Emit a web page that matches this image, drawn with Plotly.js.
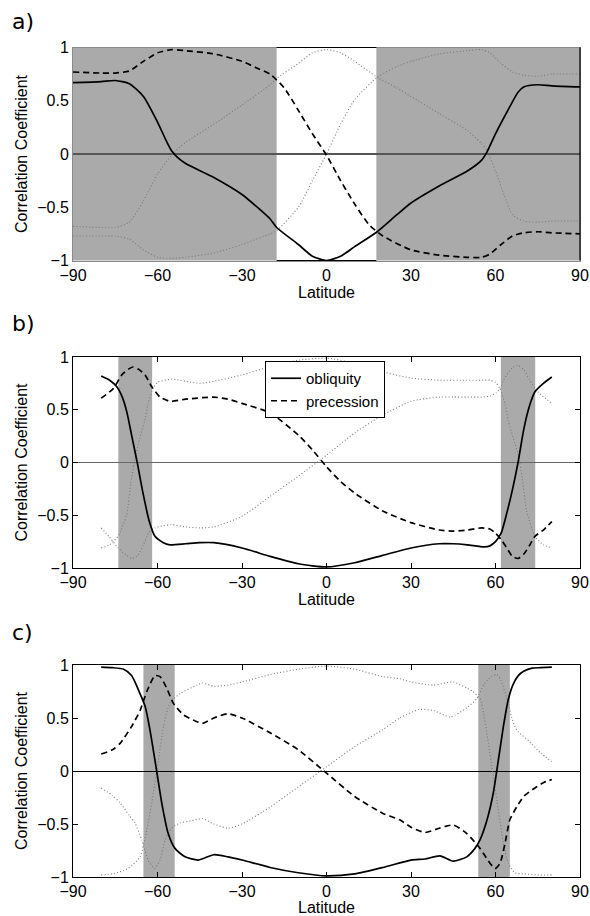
<!DOCTYPE html>
<html><head><meta charset="utf-8">
<script src="https://cdn.plot.ly/plotly-3.0.1.min.js"></script>
<style>html,body{margin:0;padding:0;background:#fff}#chart{width:590px;height:916px}</style>
</head><body><div id="chart"></div>
<script>
// ---------- Panel a ----------
const latA_obl = [-90,-80,-75,-70,-65,-60,-57,-55,-53,-50,-40,-30,-25,-20,-17.7,-10,-5,0,5,10,18,25,30,40,50,55,57,60,65,68,70,75,80,90];
const oblA = [0.67,0.68,0.69,0.66,0.54,0.30,0.13,0.03,-0.03,-0.09,-0.22,-0.38,-0.49,-0.61,-0.69,-0.85,-0.96,-1.0,-0.96,-0.87,-0.73,-0.57,-0.46,-0.30,-0.16,-0.06,0.02,0.19,0.44,0.58,0.63,0.65,0.64,0.63];
const latA_pre = [-90,-80,-75,-70,-65,-60,-55,-50,-40,-30,-25,-20,-15,-10,-5,0,5,10,15,20,30,40,50,55,58,62,66,70,75,80,90];
const preA = [0.77,0.76,0.76,0.78,0.87,0.95,0.98,0.97,0.94,0.87,0.81,0.75,0.62,0.41,0.19,-0.01,-0.25,-0.47,-0.66,-0.77,-0.90,-0.95,-0.97,-0.97,-0.94,-0.85,-0.77,-0.74,-0.73,-0.74,-0.75];
const latA_dot1 = [-90,-80,-75,-70,-65,-60,-55,-50,-40,-30,-20,-17.7,-10,-5,0,5,10,18,25,30,40,50,55,57,60,63,66,70,75,80,90];
const dotA1 = [-0.68,-0.69,-0.69,-0.64,-0.44,-0.19,-0.01,0.11,0.28,0.46,0.65,0.71,0.85,0.95,0.98,0.95,0.87,0.72,0.62,0.54,0.38,0.22,0.10,0.03,-0.16,-0.38,-0.57,-0.63,-0.64,-0.63,-0.63];
const latA_dot2 = [-90,-80,-75,-70,-65,-60,-55,-50,-40,-30,-20,-17.7,-10,-5,0,5,10,18,25,30,40,50,55,58,62,66,70,75,80,90];
const dotA2 = [-0.77,-0.77,-0.77,-0.80,-0.90,-0.97,-0.98,-0.97,-0.93,-0.85,-0.75,-0.72,-0.50,-0.25,0.0,0.28,0.51,0.72,0.82,0.87,0.94,0.97,0.98,0.95,0.85,0.77,0.74,0.73,0.75,0.75];
const shadeA = [[-90,-17.7],[17.7,90]];

// ---------- Panel b ----------
const latB_obl = [-80,-77,-74.5,-72.5,-70.9,-69.2,-67.2,-65,-62.9,-60.9,-57.9,-55.6,-50,-45,-40,-30,-20,-10,0,10,20,30,40,45,50,56,58,60,62,64,66,68,70,72,74,77,80];
const oblB = [0.82,0.78,0.72,0.62,0.48,0.26,0.0,-0.31,-0.56,-0.70,-0.76,-0.78,-0.77,-0.76,-0.76,-0.81,-0.89,-0.96,-0.99,-0.95,-0.88,-0.81,-0.77,-0.77,-0.78,-0.80,-0.79,-0.75,-0.67,-0.48,-0.26,0.0,0.31,0.53,0.67,0.75,0.81];
const latB_pre = [-80,-75.7,-72.7,-70,-68.6,-66.5,-64.4,-62.1,-59.1,-55.6,-50,-40,-35,-30,-20,-10,-5,0,5,10,20,30,40,45,50,55,58,60,62,64,66,68,70,72,74,77,80];
const preB = [0.61,0.70,0.83,0.89,0.905,0.88,0.83,0.72,0.62,0.58,0.60,0.62,0.60,0.56,0.47,0.26,0.12,-0.04,-0.18,-0.29,-0.46,-0.57,-0.64,-0.65,-0.64,-0.62,-0.63,-0.67,-0.73,-0.81,-0.89,-0.91,-0.87,-0.79,-0.70,-0.64,-0.56];
const latB_dot1 = [-80,-77,-74,-71,-69.5,-68.3,-66.3,-64.6,-63.4,-61.6,-60,-55,-50,-45,-40,-30,-20,-10,0,10,20,30,40,50,55,58,60,61.6,63.4,64.6,66.3,68.1,69.5,71,74,77,80];
const dotB1 = [-0.81,-0.78,-0.70,-0.50,-0.20,0.0,0.23,0.39,0.55,0.70,0.76,0.79,0.77,0.75,0.77,0.83,0.91,0.97,0.99,0.94,0.86,0.80,0.78,0.78,0.78,0.78,0.76,0.70,0.55,0.39,0.23,0.07,-0.15,-0.45,-0.70,-0.78,-0.81];
const latB_dot2 = [-80,-77,-74,-71,-69,-67,-65,-63,-61,-58,-55,-50,-45,-40,-30,-20,-10,0,10,20,30,40,45,50,55,58,60.2,61.6,63,66,68,70,72,75,80];
const dotB2 = [-0.62,-0.71,-0.81,-0.88,-0.91,-0.88,-0.78,-0.66,-0.62,-0.60,-0.59,-0.61,-0.62,-0.61,-0.51,-0.32,-0.13,0.07,0.28,0.45,0.58,0.62,0.62,0.62,0.62,0.63,0.66,0.70,0.79,0.90,0.92,0.88,0.79,0.67,0.56];
const shadeB = [[-73.9,-61.9],[61.9,74.1]];

// ---------- Panel c ----------
const latC_obl = [-80,-76,-72,-69.2,-66.2,-64.4,-62.7,-60.3,-58.5,-56.2,-53.8,-50.2,-45.5,-40,-35,-30,-20,-10,0,10,20,30,35,40.3,45,49.8,52.7,54.5,57,59.2,61,62.8,64.5,66.3,68.1,70,73,76,80];
const oblC = [0.98,0.975,0.96,0.90,0.73,0.61,0.39,0.0,-0.30,-0.59,-0.73,-0.81,-0.84,-0.79,-0.81,-0.84,-0.91,-0.96,-0.99,-0.97,-0.91,-0.84,-0.83,-0.80,-0.85,-0.81,-0.73,-0.65,-0.46,-0.21,0.10,0.42,0.67,0.82,0.90,0.94,0.97,0.975,0.98];
const latC_pre = [-80,-76,-73.3,-69.2,-66.2,-63.8,-60.9,-59.1,-56.7,-54.4,-50.8,-47.3,-44,-40,-35,-30,-20,-10,0,10,20,26,30,35,40,45,49.8,54.5,57.5,59.8,61.6,63.4,65.1,67.5,70,74,77,80];
const preC = [0.16,0.20,0.26,0.42,0.57,0.75,0.90,0.89,0.78,0.64,0.53,0.48,0.45,0.50,0.54,0.50,0.36,0.20,-0.02,-0.24,-0.40,-0.46,-0.53,-0.58,-0.54,-0.51,-0.59,-0.73,-0.85,-0.92,-0.87,-0.68,-0.46,-0.34,-0.24,-0.16,-0.11,-0.08];
const latC_dot1 = [-80,-76,-72,-69,-66.2,-63.8,-61.5,-59.7,-57.9,-55.6,-52,-46,-44,-40,-35,-30,-20,-10,0,10,20,26,30,38,45,50,52,54.5,55.1,57.5,59.2,61,62.8,64.5,66.9,70,75,80];
const dotC1 = [-0.98,-0.97,-0.94,-0.89,-0.81,-0.56,-0.21,0.10,0.42,0.64,0.73,0.81,0.83,0.80,0.81,0.84,0.91,0.96,0.99,0.96,0.89,0.87,0.84,0.81,0.84,0.78,0.75,0.68,0.64,0.26,-0.05,-0.37,-0.68,-0.87,-0.96,-0.97,-0.98,-0.98];
const latC_dot2 = [-80,-76,-73.3,-70,-68,-65.6,-63.3,-61.1,-59.1,-57.3,-55,-52,-48,-44,-40,-35,-30,-20,-10,0,10,20,26,33,38,44,50,53.3,56,58.5,60.5,62,64.5,65.7,66.9,68.1,72,76,80];
const dotC2 = [-0.16,-0.23,-0.30,-0.42,-0.49,-0.65,-0.84,-0.92,-0.84,-0.65,-0.54,-0.49,-0.47,-0.45,-0.50,-0.54,-0.50,-0.34,-0.15,0.04,0.23,0.39,0.50,0.58,0.57,0.51,0.60,0.68,0.82,0.89,0.91,0.85,0.64,0.51,0.42,0.37,0.28,0.17,0.09];
const shadeC = [[-65.0,-53.9],[53.9,65.1]];

const latTicks = [-90,-60,-30,0,30,60,90];
const latTickText = ['\u221290','\u221260','\u221230','0','30','60','90'];
const corrTicks = [-1,-0.5,0,0.5,1];
const corrTickText = ['\u22121','\u22120.5','0','0.5','1'];
const panelLabels = ['a)','b)','c)'];

// ---------- styles ----------
const FONT = 'Liberation Sans, Arial, Helvetica, sans-serif';
const solid = {color:'#000', width:1.7, dash:'solid', shape:'spline', smoothing:0.6};
const dashed = {color:'#000', width:1.7, dash:'6px,4px', shape:'spline', smoothing:0.6};
const dotted = {color:'#7a7a7a', width:1.1, dash:'1px,2.2px', shape:'spline', smoothing:0.6};

function tr(x, y, n, line, name, legend){
  return {type:'scatter', mode:'lines', x:x, y:y, xaxis:'x'+(n>1?n:''), yaxis:'y'+(n>1?n:''),
          line:line, name:name||'', showlegend:!!legend, hoverinfo:'skip'};
}
const data = [
  tr(latA_dot1, dotA1, 1, dotted), tr(latA_dot2, dotA2, 1, dotted),
  tr(latA_obl, oblA, 1, solid), tr(latA_pre, preA, 1, dashed),
  tr(latB_dot1, dotB1, 2, dotted), tr(latB_dot2, dotB2, 2, dotted),
  tr(latB_obl, oblB, 2, solid, 'obliquity', true), tr(latB_pre, preB, 2, dashed, 'precession', true),
  tr(latC_dot1, dotC1, 3, dotted), tr(latC_dot2, dotC2, 3, dotted),
  tr(latC_obl, oblC, 3, solid), tr(latC_pre, preC, 3, dashed)
];

const H = 916, L = 73, R = 10;
const tops = [47.5, 357, 665], bots = [260.5, 568, 877];
function xax(n){
  return {domain:[0,1], range:[-90,90], anchor:'y'+(n>1?n:''), tickvals:latTicks, ticktext:latTickText,
    ticks:'inside', ticklen:5, tickwidth:1, tickcolor:'#000', showline:true, linecolor:'#000', linewidth:1,
    mirror:'ticks', showgrid:false, zeroline:false, automargin:false, fixedrange:true,
    tickfont:{family:FONT, size:16, color:'#000'},
    title:{text:'Latitude', font:{family:FONT, size:16, color:'#000'}, standoff:0}};
}
function yax(n, zc, zw){
  return {domain:[1-bots[n-1]/H, 1-tops[n-1]/H], range:[-1,1], anchor:'x'+(n>1?n:''),
    tickvals:corrTicks, ticktext:corrTickText,
    ticks:'inside', ticklen:5, tickwidth:1, tickcolor:'#000', showline:true, linecolor:'#000', linewidth:1,
    mirror:'ticks', showgrid:false, zeroline:true, zerolinecolor:zc, zerolinewidth:zw, automargin:false, fixedrange:true,
    tickfont:{family:FONT, size:16, color:'#000'},
    title:{text:'Correlation Coefficient', font:{family:FONT, size:16, color:'#000'}, standoff:5}};
}
const layout = {
  width:590, height:916, margin:{l:L, r:R, t:0, b:0}, paper_bgcolor:'#fff', plot_bgcolor:'#fff',
  xaxis:xax(1), xaxis2:xax(2), xaxis3:xax(3),
  yaxis:yax(1,'#555',1.6), yaxis2:yax(2,'#666',1.4), yaxis3:yax(3,'#000',1),
  showlegend:true,
  legend:{x:(265-L)/(590-L-R), y:1-361/H, xanchor:'left', yanchor:'top', bgcolor:'#fff', bordercolor:'#000', borderwidth:1,
    font:{family:FONT, size:15, color:'#000'}, tracegroupgap:0, itemwidth:30},
  shapes:[], annotations:[]
};
// panel a: no ticks, grey frame under shading
Object.assign(layout.xaxis, {ticks:'', linecolor:'#8a8a8a'});
Object.assign(layout.yaxis, {ticks:'', linecolor:'#8a8a8a'});

const shades = [shadeA, shadeB, shadeC];
shades.forEach((s, i) => {
  const n = i+1, xr = 'x'+(n>1?n:''), yr = 'y'+(n>1?n:'')+' domain';
  s.forEach(([x0,x1]) => layout.shapes.push({type:'rect', xref:xr, yref:yr, x0:x0, x1:x1, y0:0, y1:1,
    fillcolor:'#aaaaaa', line:{width:0}, layer:'below'}));
});
// panel a: black frame pieces around the white band and right edge
[0,1].forEach(yy => layout.shapes.push({type:'line', xref:'x', yref:'y domain', x0:shadeA[0][1], x1:shadeA[1][0], y0:yy, y1:yy,
  line:{color:'#000', width:1.2}, layer:'above'}));
layout.shapes.push({type:'line', xref:'x domain', yref:'y domain', x0:1, x1:1, y0:0, y1:1, line:{color:'#000', width:1.2}, layer:'above'});

const labelY = [21, 323, 632];
panelLabels.forEach((t, i) => layout.annotations.push({text:t, xref:'paper', yref:'paper', x:(10-L)/(590-L-R), y:1-labelY[i]/H,
  xanchor:'left', yanchor:'middle', showarrow:false, font:{family:'DejaVu Sans, sans-serif', size:22, color:'#000'}}));

Plotly.newPlot('chart', data, layout, {staticPlot:true, displayModeBar:false});
</script></body></html>
